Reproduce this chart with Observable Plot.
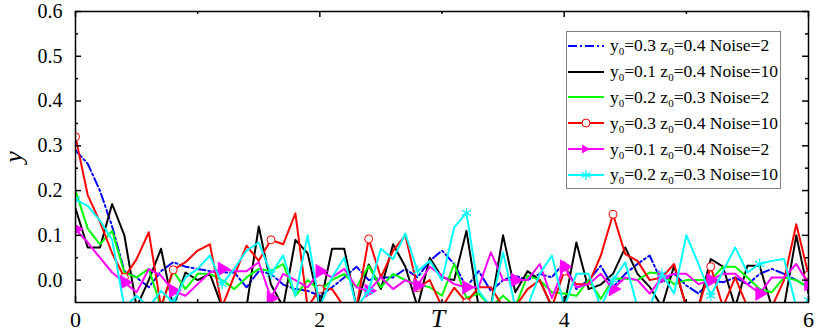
<!DOCTYPE html>
<html>
<head>
<meta charset="utf-8">
<script src="https://cdn.jsdelivr.net/npm/d3@7"></script>
<script src="https://cdn.jsdelivr.net/npm/@observablehq/plot@0.6"></script>
<style>
  html, body { margin: 0; padding: 0; background: #fff; }
  #wrap { position: relative; width: 816px; height: 332px; font-family: "Liberation Serif", serif; }
  #legend { position: absolute; left: 566px; top: 31px; width: 215px; height: 158px; border: 1px solid #808080; background: #fff; box-sizing: border-box; padding-top: 1px; }
  .row { display: flex; align-items: center; height: 25.8px; font-size: 17.5px; color: #000; white-space: nowrap; }
  .row svg { flex: none; margin-right: 5px; }
  .row sub { font-size: 11px; vertical-align: -4px; line-height: 0; }
</style>
</head>
<body>
<div id="wrap"></div>
<script>
// Sample grid T: 0, 0.1, ..., 6.0
const nSamples = 61;
const T = d3.range(nSamples).map(i => i / 10);

// Series values (values below -0.05 are clipped at the axis)
const blue = [0.29,0.26,0.20,0.12,0.02,0.006,-0.016,0.02,0.04,0.03,0.025,0.02,0.017,0.017,-0.016,0.02,0.014,-0.01,-0.02,-0.024,-0.035,-0.016,0.006,0.03,0,0.006,0.006,0.025,0.006,0.043,0.066,
  0.036,-0.016,0.02,-0.024,0,0.01,0,0.014,0.006,0.04,-0.02,0,0.032,-0.016,0.014,0.036,0.055,-0.005,0.014,-0.012,-0.03,0,-0.005,0.006,-0.01,0.014,0.025,0.014,0,-0.016];
const black = [0.16,0.073,0.073,0.17,0.10,-0.06,0.0,0.07,-0.06,0.017,0.0,0.014,-0.06,-0.06,-0.06,0.12,-0.01,-0.06,0.09,0.06,-0.06,0.07,0.07,-0.06,0.035,-0.02,0.08,0.03,-0.06,0.05,0.006,
  0,0.11,-0.06,-0.06,0.1,-0.027,0.02,0,-0.06,-0.06,0.084,-0.02,-0.01,0.014,0.073,0.014,-0.015,-0.06,0.032,-0.06,-0.06,0.047,0.03,-0.06,0.032,0.032,-0.06,-0.06,0.1,-0.03];
const green = [0.2,0.115,0.08,0.11,0.017,0.006,0.025,-0.06,0.02,-0.02,0.014,0.014,0,-0.02,0.006,0.025,0.02,0.036,-0.035,0,-0.024,0,0.014,-0.016,0.032,-0.016,0.014,0,-0.009,-0.016,-0.035,
  0.036,-0.04,-0.03,-0.06,-0.035,-0.06,0.01,0,-0.027,-0.03,-0.035,0,-0.042,0.003,0.003,0,0.017,0.014,-0.009,0,0,0,0.03,0.03,0.006,-0.02,-0.027,0.006,0,-0.016];
const red = [0.32,0.19,0.13,0.06,0.006,0.047,0.107,-0.06,0.023,0.04,0.066,0.08,-0.06,0.01,0.077,0.043,0.09,0.08,0.149,-0.06,-0.02,-0.02,-0.06,-0.06,0.092,0.006,0.066,0.1,-0.017,0,-0.06,
  -0.017,-0.05,-0.016,-0.016,-0.06,-0.06,-0.02,0,-0.06,0.02,-0.009,-0.009,0.055,0.147,0.058,0.043,0,0.006,0.036,-0.06,-0.06,0.03,-0.06,0.006,-0.06,-0.06,-0.06,0,0.125,0.012];
const magenta = [0.114,0.084,0.05,0.017,-0.005,-0.027,0.025,0.01,-0.024,-0.035,-0.009,0.017,0.025,0.02,0.02,0.04,-0.04,0.014,0,-0.016,0.02,0.006,0.025,-0.016,-0.024,0.006,-0.02,0,-0.012,0.03,0.01,
  -0.009,-0.016,-0.016,0.062,0,0,0,0.036,-0.04,0.03,-0.016,-0.009,0.014,-0.02,0.006,0,-0.03,0.006,0.014,0.014,-0.009,0,0.014,0.014,-0.009,-0.03,0.006,0.006,0.036,-0.009];
const cyan = [0.18,0.166,0.133,0.09,-0.06,-0.035,-0.06,-0.024,-0.05,0.006,0.025,0.055,-0.009,0.025,0.066,0.084,0.014,0.055,-0.035,0.1,-0.06,0.006,0.05,-0.06,-0.024,0.07,0.047,0.104,0.02,0.043,0,
  0.118,0.15,-0.024,-0.06,0.062,-0.06,-0.06,0.014,0.055,-0.06,0.014,0.014,-0.06,0,0.04,-0.06,-0.06,0.014,-0.03,0.1,0.036,-0.035,0.02,0.073,0.017,0.036,0.043,0.047,-0.06,-0.045];

const legendParts = [["0.3","0.4","2"],["0.1","0.4","10"],["0.2","0.3","2"],["0.3","0.4","10"],["0.1","0.4","2"],["0.2","0.3","10"]];
const seriesColors = ["#0000ff","#000000","#00ff00","#ff0000","#ff00ff","#00ffff"];
const seriesValues = [blue, black, green, red, magenta, cyan];
const seriesMarkers = [null, null, null, "circle", "triangle", "asterisk"];

const yTicks = [0, 0.1, 0.2, 0.3, 0.4, 0.5, 0.6];
const yMinor = [0.05, 0.15, 0.25, 0.35, 0.45, 0.55];
const xTicks = [0, 2, 4, 6];
const xMinor = [1, 3, 5];

const W = 816, H = 332, mL = 75, mR = 8, mT = 11, mB = 30;
const fw = W - mL - mR, fh = H - mT - mB;

const tables = seriesValues.map((vals, s) => vals.map((v, i) => ({t: T[i], v, s, i})));

const marks = [];
tables.forEach((rows, s) => {
  marks.push(Plot.line(rows, {
    x: "t", y: "v", stroke: seriesColors[s], strokeWidth: 2,
    strokeDasharray: s === 0 ? "9,3,2,3" : null, clip: true
  }));
  const m = seriesMarkers[s];
  if (m) {
    const pts = rows.filter(d => d.i % 4 === 0);
    if (m === "circle") marks.push(Plot.dot(pts, {x: "t", y: "v", symbol: "circle", r: 4, stroke: seriesColors[s], fill: "white", strokeWidth: 1, clip: true}));
    if (m === "triangle") marks.push(Plot.dot(pts, {x: "t", y: "v", symbol: "triangle", r: 4.5, fill: seriesColors[s], stroke: seriesColors[s], rotate: 90, clip: true}));
    if (m === "asterisk") marks.push(Plot.dot(pts, {x: "t", y: "v", symbol: "asterisk", r: 5, stroke: seriesColors[s], strokeWidth: 1.2, clip: true}));
  }
});

const tk = {stroke: "black", strokeWidth: 1.5};
marks.push(
  Plot.frame({stroke: "black", strokeWidth: 1.5}),
  // inward ticks on all four sides
  Plot.tickY(yTicks, {y: d => d, insetRight: fw - 6, ...tk}),
  Plot.tickY(yMinor, {y: d => d, insetRight: fw - 3, ...tk}),
  Plot.tickY(yTicks, {y: d => d, insetLeft: fw - 6, ...tk}),
  Plot.tickY(yMinor, {y: d => d, insetLeft: fw - 3, ...tk}),
  Plot.tickX(xTicks, {x: d => d, insetTop: fh - 6, ...tk}),
  Plot.tickX(xMinor, {x: d => d, insetTop: fh - 3, ...tk}),
  Plot.tickX(xTicks, {x: d => d, insetBottom: fh - 6, ...tk}),
  Plot.tickX(xMinor, {x: d => d, insetBottom: fh - 3, ...tk}),
  Plot.axisY({ticks: yTicks, tickSize: 0, tickPadding: 13, tickFormat: d3.format(".1f"), fontSize: 20, letterSpacing: "1.5px", label: null}),
  Plot.axisX({ticks: xTicks, tickSize: 0, tickPadding: 9, tickFormat: d3.format("d"), fontSize: 22, label: null}),
  Plot.text(["T"], {frameAnchor: "bottom", dx: -4, dy: 16, text: d => d, lineAnchor: "middle", textAnchor: "middle", fontStyle: "italic", fontSize: 26}),
  Plot.text(["y"], {frameAnchor: "left", dx: -62, text: d => d, lineAnchor: "middle", textAnchor: "middle", rotate: -90, fontStyle: "italic", fontSize: 26})
);

const chart = Plot.plot({
  width: W, height: H,
  marginLeft: mL, marginRight: mR, marginTop: mT, marginBottom: mB,
  style: {fontFamily: "Liberation Serif", color: "black", background: "white"},
  x: {domain: [0, 6]},
  y: {domain: [-0.05, 0.6]},
  marks
});

const wrap = document.getElementById("wrap");
wrap.appendChild(chart);

// Legend
const legend = document.createElement("div");
legend.id = "legend";
legendParts.forEach((p, s) => {
  const row = document.createElement("div");
  row.className = "row";
  const c = seriesColors[s];
  let sample = `<svg width="38" height="14" viewBox="0 0 38 14"><line x1="1" y1="7" x2="37" y2="7" stroke="${c}" stroke-width="2" ${s === 0 ? 'stroke-dasharray="9,3,2,3"' : ''}/>`;
  if (seriesMarkers[s] === "circle") sample += `<circle cx="19" cy="7" r="4" fill="white" stroke="${c}" stroke-width="1"/>`;
  if (seriesMarkers[s] === "triangle") sample += `<path d="M23,7 L15,2.5 L15,11.5 Z" fill="${c}"/>`;
  if (seriesMarkers[s] === "asterisk") sample += `<g stroke="${c}" stroke-width="1.3"><line x1="19" y1="2" x2="19" y2="12"/><line x1="14.7" y1="4.5" x2="23.3" y2="9.5"/><line x1="14.7" y1="9.5" x2="23.3" y2="4.5"/></g>`;
  sample += `</svg>`;
  row.innerHTML = sample + `<span>y<sub>0</sub>=${p[0]} z<sub>0</sub>=${p[1]} Noise=${p[2]}</span>`;
  legend.appendChild(row);
});
wrap.appendChild(legend);
</script>
</body>
</html>
